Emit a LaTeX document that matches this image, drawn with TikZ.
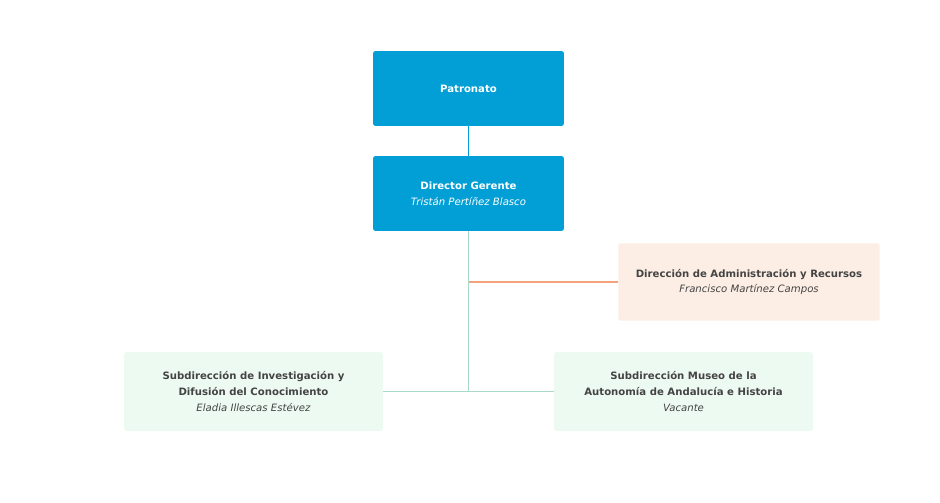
\documentclass[tikz,border=0pt]{standalone}
\usepackage{fontspec}
\setmainfont{DejaVu Sans}
\usetikzlibrary{positioning}
\definecolor{boxblue}{HTML}{029FD6}
\definecolor{boxorange}{HTML}{FDEEE5}
\definecolor{boxgreen}{HTML}{EDFAF1}
\definecolor{lineorange}{HTML}{F4A27C}
\definecolor{linegreen}{HTML}{A9D9C9}
\definecolor{textgray}{HTML}{444444}
\tikzset{
  unit/.style={rounded corners=1.5pt, minimum width=143pt, minimum height=56pt,
    align=center, font=\fontsize{7.6}{12}\selectfont, text=textgray},
  top/.style={unit, fill=boxblue, text=white},
  staff/.style={unit, fill=boxorange, minimum width=196pt, minimum height=58pt},
  sub/.style={unit, fill=boxgreen, minimum width=194pt, minimum height=59pt}
}
\begin{document}
\begin{tikzpicture}[x=0.75pt,y=-0.75pt]
  \useasboundingbox (0,0) rectangle (940,503);
  \node[top] (patronato) at (468.5,88.5) {\textbf{Patronato}};
  \node[top] (director) at (468.5,193.5) {\textbf{Director Gerente}\\\textit{Tristán Pertíñez Blasco}};
  \node[staff] (admin) at (749,282) {\textbf{Dirección de Administración y Recursos}\\\textit{Francisco Martínez Campos}};
  \node[sub] (invest) at (253.5,391.5) {\textbf{Subdirección de Investigación y}\\\textbf{Difusión del Conocimiento}\\\textit{Eladia Illescas Estévez}};
  \node[sub] (museo) at (683.5,391.5) {\textbf{Subdirección Museo de la}\\\textbf{Autonomía de Andalucía e Historia}\\\textit{Vacante}};
  \coordinate (hub) at (468.5,391.5);
  \coordinate (staffjoin) at (468.5,282);
  \draw[boxblue, line width=1.2pt] (patronato) -- (director);
  \draw[linegreen, line width=1.2pt] (director) -- (hub);
  \draw[linegreen, line width=1.2pt] (invest) -- (museo);
  \draw[lineorange, line width=1.2pt] (staffjoin) -- (admin);
\end{tikzpicture}
\end{document}
